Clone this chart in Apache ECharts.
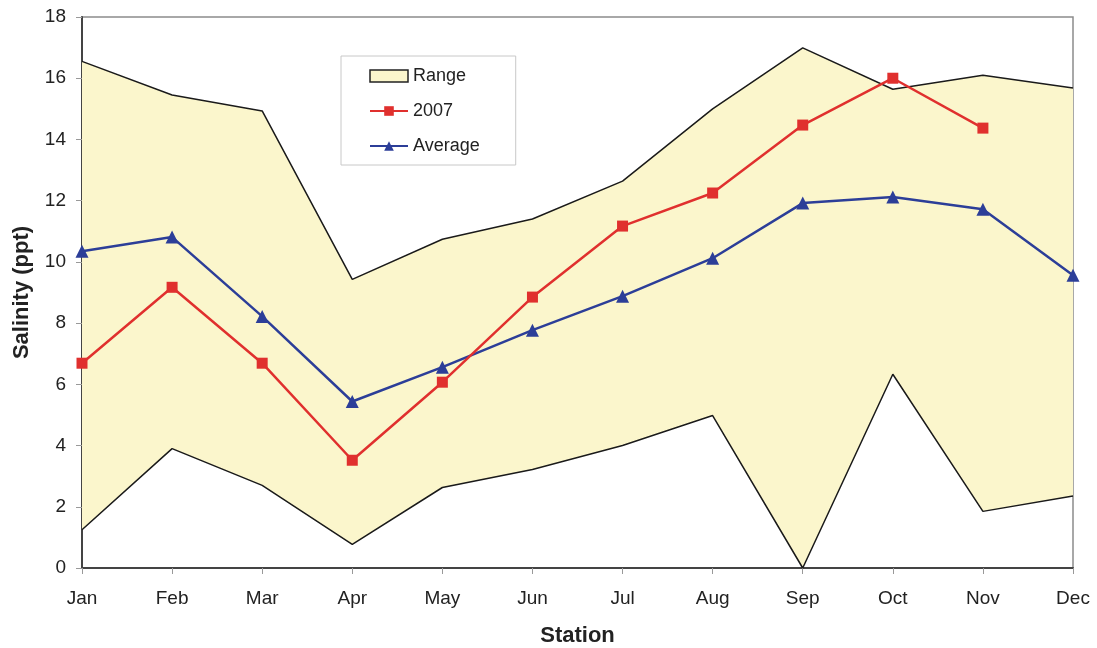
<!DOCTYPE html>
<html><head><meta charset="utf-8">
<script src="https://cdn.jsdelivr.net/npm/echarts@6/dist/echarts.min.js"></script>
<style>html,body{margin:0;padding:0;background:#fff}#c{width:1097px;height:648px}</style>
</head><body><div id="c"></div>
<script>
const months = ['Jan','Feb','Mar','Apr','May','Jun','Jul','Aug','Sep','Oct','Nov','Dec'];
const rangeUpper = [16.55,15.45,14.93,9.43,10.74,11.4,12.64,15.0,16.99,15.64,16.1,15.68];
const rangeLower = [1.25,3.9,2.7,0.77,2.63,3.22,4.0,4.98,0,6.33,1.85,2.35];
const y2007 = [6.69,9.17,6.69,3.52,6.07,8.85,11.17,12.25,14.47,16.0,14.37,null];
const average = [10.35,10.81,8.22,5.44,6.56,7.77,8.88,10.12,11.92,12.12,11.72,9.56];
const yTicks = [0,2,4,6,8,10,12,14,16,18];

const rangeSpan = rangeUpper.map((u,i)=>+(u - rangeLower[i]).toFixed(3));
const font = 'Liberation Sans, Arial, sans-serif';
const chart = echarts.init(document.getElementById('c'));
chart.setOption({
  animation:false,
  textStyle:{fontFamily:font},
  grid:{left:82,right:24,top:17,bottom:80,outerBoundsMode:'none',containLabel:false,
        show:true,borderColor:'#8c8c8c',borderWidth:1.5,backgroundColor:'transparent'},
  legend:{
    orient:'vertical',left:341,top:56,
    backgroundColor:'#fff',borderColor:'#c8c8c8',borderWidth:1,
    padding:[11,36,10,28],itemGap:17,itemWidth:38,itemHeight:12,
    textStyle:{fontSize:18,color:'#222',fontFamily:font,padding:[0,0,0,0]},
    data:[
      {name:'Range',icon:'rect',itemStyle:{color:'#FBF6CC',borderColor:'#222',borderWidth:1.5}},
      {name:'2007'},
      {name:'Average'}
    ]
  },
  xAxis:{
    type:'category',data:months,boundaryGap:false,
    name:'Station',nameLocation:'middle',nameGap:57,
    nameTextStyle:{fontSize:22,fontWeight:'bold',color:'#222'},
    axisLine:{lineStyle:{color:'#444',width:2}},
    axisTick:{length:6,lineStyle:{color:'#999'}},
    axisLabel:{fontSize:19,color:'#222',margin:21},
    splitLine:{show:false}
  },
  yAxis:{
    type:'value',min:yTicks[0],max:yTicks[yTicks.length-1],interval:2,
    name:'Salinity (ppt)',nameLocation:'middle',nameGap:49,
    nameTextStyle:{fontSize:22,fontWeight:'bold',color:'#222'},
    axisLine:{show:true,lineStyle:{color:'#444',width:2}},
    axisTick:{show:true,length:6,lineStyle:{color:'#999'}},
    axisLabel:{fontSize:19,color:'#222',margin:16},
    splitLine:{show:false}
  },
  series:[
    {name:'RangeLow',type:'line',stack:'r',data:rangeLower,symbol:'none',
     lineStyle:{color:'#1a1a1a',width:1.5},z:1},
    {name:'Range',type:'line',stack:'r',data:rangeSpan,symbol:'none',
     itemStyle:{color:'#FBF6CC'},
     lineStyle:{color:'#1a1a1a',width:1.5},areaStyle:{color:'#FBF6CC',opacity:1},z:1},
    {name:'2007',type:'line',data:y2007,symbol:'rect',symbolSize:11,
     itemStyle:{color:'#E0302E'},lineStyle:{color:'#E0302E',width:2.5},z:3},
    {name:'Average',type:'line',data:average,symbol:'triangle',symbolSize:13,
     itemStyle:{color:'#2C3E98'},lineStyle:{color:'#2C3E98',width:2.5},z:2}
  ]
});
</script></body></html>
